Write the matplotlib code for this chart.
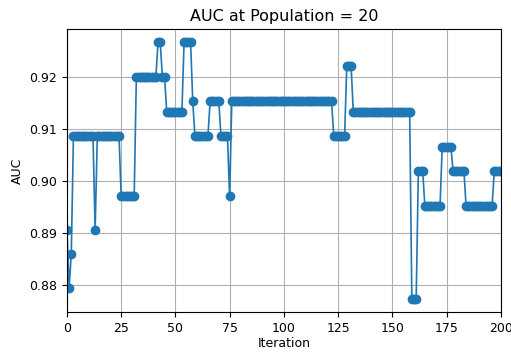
import numpy as np
import matplotlib
matplotlib.use('Agg')
import matplotlib.pyplot as plt

# AUC runs: (value, number of iterations it stays)
run_values = [0.8906, 0.8795, 0.8861, 0.9088, 0.8906, 0.9088, 0.8971, 0.9201,
              0.9268, 0.9201, 0.9134, 0.9268, 0.9154, 0.9087, 0.9154, 0.9087,
              0.8971, 0.9154, 0.9087, 0.9222, 0.9134, 0.8774, 0.9020, 0.8953,
              0.9067, 0.9020, 0.8953, 0.9020]
run_lengths = [1, 1, 1, 10, 1, 11, 7, 10,
               2, 2, 8, 4, 1, 7, 5, 4,
               1, 47, 6, 3, 27, 3, 3, 8,
               5, 6, 13, 4]

auc = np.repeat(run_values, run_lengths)
iteration = np.arange(len(auc))

plt.rcParams['font.size'] = 9

fig = plt.figure(figsize=(5.11, 3.54), dpi=100)
ax = fig.add_axes([0.131, 0.119, 0.849, 0.799])

ax.plot(iteration, auc, '-o', color='#1f77b4', markersize=6, linewidth=1.2)

ax.set_xlim(0, 200)
ax.set_xticks([0, 25, 50, 75, 100, 125, 150, 175, 200])
ax.set_yticks([0.88, 0.89, 0.90, 0.91, 0.92])
ax.grid(True, color='#b0b0b0', linewidth=0.8)

ax.set_title('AUC at Population = 20', fontsize=11.5)
ax.set_xlabel('Iteration', labelpad=2)
ax.set_ylabel('AUC')

plt.savefig('out.png', dpi=100)
